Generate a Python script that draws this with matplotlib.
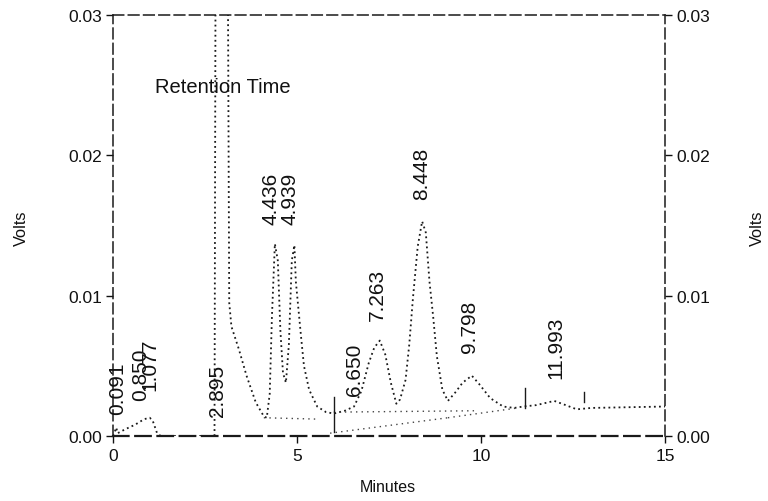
import matplotlib
matplotlib.use("Agg")
import matplotlib.pyplot as plt

plt.rcParams['font.family'] = ['Liberation Sans', 'DejaVu Sans']

# Chromatogram trace (minutes, volts)
times = [0.00, 0.05, 0.09, 0.13, 0.35, 0.60, 0.85, 1.00, 1.08, 1.20, 1.30, 2.00,
         2.76, 2.79, 3.12, 3.16, 3.22, 3.42, 3.63, 3.88, 4.10, 4.18, 4.26, 4.32,
         4.40, 4.48, 4.55, 4.62, 4.70, 4.78, 4.86, 4.93, 4.97, 5.11, 5.19, 5.33,
         5.55, 5.79, 6.00, 6.30, 6.55, 6.75, 6.95, 7.10, 7.25, 7.40, 7.55, 7.70,
         7.80, 7.95, 8.05, 8.15, 8.28, 8.40, 8.50, 8.60, 8.70, 8.80, 8.95, 9.10,
         9.30, 9.50, 9.75, 9.95, 10.25, 10.60, 10.90, 11.15, 11.50, 11.99, 12.30,
         12.60, 13.00, 15.00]
volts = [0.0000, 0.0003, 0.0006, 0.0002, 0.0005, 0.0008, 0.0012, 0.0013, 0.0011,
         0.0002, 0.0000, 0.0000, 0.0000, 0.0350, 0.0350, 0.0095, 0.0078, 0.0062,
         0.0043, 0.0024, 0.0014, 0.0013, 0.0030, 0.0085, 0.0137, 0.0125, 0.0075,
         0.0045, 0.0038, 0.0065, 0.0125, 0.0136, 0.0110, 0.0071, 0.0050, 0.0033,
         0.0021, 0.0017, 0.0016, 0.0018, 0.0021, 0.0032, 0.0052, 0.0063, 0.0068,
         0.0058, 0.0038, 0.0023, 0.0026, 0.0040, 0.0065, 0.0098, 0.0135, 0.0153,
         0.0145, 0.0110, 0.0085, 0.0057, 0.0033, 0.0025, 0.0031, 0.0038, 0.0043,
         0.0037, 0.0027, 0.0021, 0.0020, 0.0021, 0.0022, 0.0025, 0.0022, 0.0019,
         0.0020, 0.0021]

# Integration baselines (dotted segments): (t0, v0, t1, v1)
baselines = [(4.10, 0.0013, 5.60, 0.0012),
             (6.00, 0.0017, 9.90, 0.0018),
             (5.90, 0.0002, 9.10, 0.0013),
             (9.10, 0.0013, 11.00, 0.0020)]

# Peak-start / end markers (short vertical ticks): (t, v_low, v_high)
markers = [(6.00, 0.0003, 0.0028), (11.20, 0.0020, 0.0034), (12.80, 0.0024, 0.0031)]

# Peak labels: (text, label x in minutes, label bottom in volts)
peak_labels = ["0.091", "0.850", "1.077", "2.895", "4.436", "4.939",
               "6.650", "7.263", "8.448", "9.798", "11.993"]
label_x = [0.14, 0.76, 1.01, 2.84, 4.30, 4.80, 6.57, 7.18, 8.39, 9.70, 12.02]
label_y = [0.0016, 0.0026, 0.0033, 0.0014, 0.0151, 0.0151, 0.0029, 0.0083,
           0.0169, 0.0060, 0.0041]

x_ticks = [0, 5, 10, 15]
y_ticks = [0.00, 0.01, 0.02, 0.03]
y_tick_labels = ["0.00", "0.01", "0.02", "0.03"]

fig = plt.figure(figsize=(7.68, 5.02), dpi=100)
ax = fig.add_axes([0.147, 0.1295, 0.719, 0.8385])

ink = '#1a1a1a'
ax.plot(times, volts, linestyle=(0, (1, 1.8)), color=ink, linewidth=1.3)
for t0, v0, t1, v1 in baselines:
    ax.plot([t0, t1], [v0, v1], linestyle=(0, (1, 3)), color='#444444', linewidth=1.0)
for t, lo, hi in markers:
    ax.plot([t, t], [lo, hi], color=ink, linewidth=1.0)

for txt, x, y in zip(peak_labels, label_x, label_y):
    ax.text(x, y, txt, rotation=90, ha='center', va='bottom', fontsize=15, color='#111111')

ax.text(1.15, 0.0249, "Retention Time", fontsize=14.5, color='#111111', va='center', ha='left')

ax.set_xlim(0, 15)
ax.set_ylim(0, 0.03)
ax.set_xticks(x_ticks)
ax.set_xticklabels([str(v) for v in x_ticks])
ax.set_yticks(y_ticks)
ax.set_yticklabels(y_tick_labels)
ax.tick_params(axis='both', direction='out', length=5, width=1.0, labelsize=12.5,
               colors='#111111', pad=4)
ax.tick_params(axis='y', right=True, labelright=True, pad=3)

for name, sp in ax.spines.items():
    sp.set_linestyle((0, (7, 3)))
    sp.set_linewidth(1.1)
    sp.set_color(ink)
ax.spines['bottom'].set_linewidth(1.6)

fig.text(0.028, 0.546, "Volts", rotation=90, ha='center', va='center', fontsize=11.8, color='#111111')
fig.text(0.986, 0.546, "Volts", rotation=90, ha='center', va='center', fontsize=11.8, color='#111111')
fig.text(0.505, 0.028, "Minutes", ha='center', va='center', fontsize=11.5, color='#111111')

fig.savefig("out.png", dpi=100)
